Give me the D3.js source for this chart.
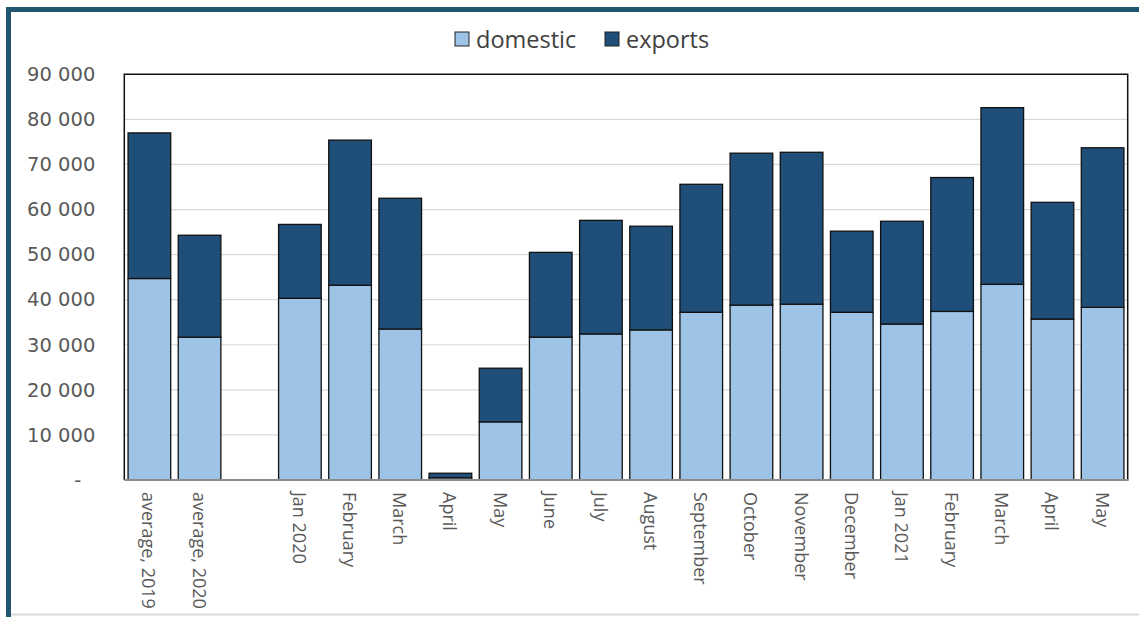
<!DOCTYPE html>
<html>
<head>
<meta charset="utf-8">
<script src="https://cdn.jsdelivr.net/npm/d3@7"></script>
<style>
  html, body { margin: 0; padding: 0; background: #fff; }
  svg { display: block; }
</style>
</head>
<body>
<svg id="chart" width="1139" height="617"></svg>
<script>
// Categories along the x axis ("" is an empty spacer slot)
const categories = [
  "average, 2019", "average, 2020", "",
  "Jan 2020", "February", "March", "April", "May", "June", "July", "August",
  "September", "October", "November", "December",
  "Jan 2021", "February ", "March ", "April ", "May "
];
// Domestic volume per category
const domestic = [
  44700, 31700, null,
  40300, 43200, 33500, 500, 12900, 31700, 32400, 33300,
  37200, 38800, 39000, 37200,
  34600, 37400, 43400, 35700, 38300
];
// Exports volume per category (stacked on top of domestic)
const exports = [
  32300, 22600, null,
  16400, 32200, 29000, 1000, 11900, 18800, 25200, 23000,
  28400, 33700, 33700, 18000,
  22800, 29700, 39200, 25900, 35400
];
const yTicks = [0, 10000, 20000, 30000, 40000, 50000, 60000, 70000, 80000, 90000];
const seriesNames = ["domestic", "exports"];
const seriesColors = ["#9dc3e6", "#1f4e79"];

const svg = d3.select("#chart");
const W = 1139, H = 617;

// Outer frame
svg.append("line").attr("x1", 6).attr("x2", W).attr("y1", 9.5).attr("y2", 9.5)
  .attr("stroke", "#20566f").attr("stroke-width", 5);
svg.append("line").attr("x1", 8.5).attr("x2", 8.5).attr("y1", 7).attr("y2", H)
  .attr("stroke", "#20566f").attr("stroke-width", 5);
svg.append("line").attr("x1", 11).attr("x2", W).attr("y1", 614.5).attr("y2", 614.5)
  .attr("stroke", "#d9d9d9").attr("stroke-width", 2);

const m = { left: 124.3, right: 1127.7, top: 74.3, bottom: 480 };

const x = d3.scaleBand().domain(categories).range([m.left, m.right]).paddingInner(0.15).paddingOuter(0.075);
const y = d3.scaleLinear().domain([0, 90000]).range([m.bottom, m.top]);

// Horizontal gridlines
svg.append("g").selectAll("line").data(yTicks.filter(d => d > 0 && d < 90000)).join("line")
  .attr("x1", m.left).attr("x2", m.right)
  .attr("y1", d => y(d)).attr("y2", d => y(d))
  .attr("stroke", "#d9d9d9").attr("stroke-width", 1.2);

// Y axis labels
const fmt = d => d === 0 ? "-" : d3.format(",")(d).replace(/,/g, " ");
const yAxis = d3.axisLeft(y).tickValues(yTicks).tickFormat(fmt).tickSize(0).tickPadding(29);
const gy = svg.append("g").attr("transform", `translate(${m.left},0)`).call(yAxis);
gy.select(".domain").remove();
gy.selectAll("text")
  .attr("font-family", "DejaVu Sans, Verdana, sans-serif")
  .attr("font-size", 19.5)
  .attr("fill", "#595959");
gy.selectAll(".tick").filter(d => d === 0).select("text").attr("dx", -14);

// Stacked bars
const rows = categories.map((c, i) => ({ cat: c, domestic: domestic[i], exports: exports[i] }))
  .filter(r => r.domestic !== null);
const stack = d3.stack().keys(seriesNames)(rows);

svg.append("g").selectAll("g").data(stack).join("g")
  .attr("fill", (d, i) => seriesColors[i])
  .selectAll("rect").data(d => d).join("rect")
  .attr("x", d => x(d.data.cat))
  .attr("width", x.bandwidth())
  .attr("y", d => y(d[1]))
  .attr("height", d => y(d[0]) - y(d[1]))
  .attr("stroke", "#111")
  .attr("stroke-width", 1.3);

// Plot area border (top, left, right) and category axis line
svg.append("path")
  .attr("d", `M${m.left},${m.bottom}V${m.top}H${m.right}V${m.bottom}`)
  .attr("fill", "none").attr("stroke", "#111").attr("stroke-width", 1.5);
svg.append("line").attr("x1", m.left).attr("x2", m.right + 1)
  .attr("y1", m.bottom).attr("y2", m.bottom)
  .attr("stroke", "#8c8c8c").attr("stroke-width", 2);

// Category labels, rotated to read downward
const xAxis = d3.axisBottom(x).tickSize(0).tickFormat(d => d.trim());
const gx = svg.append("g").attr("transform", `translate(0,${m.bottom})`).call(xAxis);
gx.select(".domain").remove();
gx.selectAll("text")
  .attr("font-family", "Open Sans, sans-serif")
  .attr("font-size", 18)
  .attr("fill", "#595959")
  .attr("text-anchor", "start")
  .attr("dy", null)
  .attr("dominant-baseline", "central")
  .attr("transform", "translate(0,12) rotate(90)")
  .attr("y", 0).attr("x", 0);

// Legend
const legend = svg.append("g").attr("transform", "translate(455,39)");
const items = [{ name: "domestic", x: 0 }, { name: "exports", x: 150 }];
items.forEach((it, i) => {
  legend.append("rect").attr("x", it.x).attr("y", -7).attr("width", 14).attr("height", 14)
    .attr("fill", seriesColors[i]).attr("stroke", "#222").attr("stroke-width", 1);
  legend.append("text").attr("x", it.x + 21).attr("y", 0)
    .attr("dominant-baseline", "central")
    .attr("font-family", "Open Sans, sans-serif").attr("font-size", 23.5)
    .attr("fill", "#404040").text(it.name);
});
</script>
</body>
</html>
